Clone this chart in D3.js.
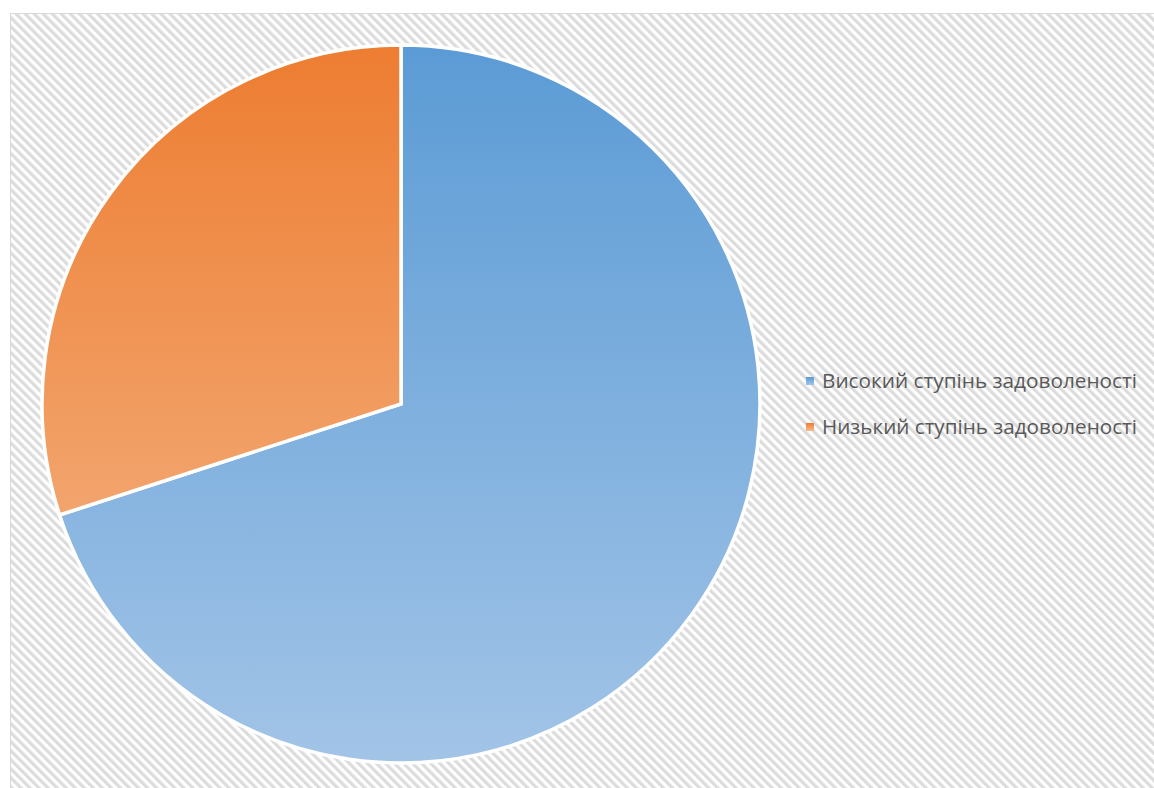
<!DOCTYPE html>
<html><head><meta charset="utf-8">
<script src="https://cdn.jsdelivr.net/npm/d3@7"></script>
<style>body{margin:0;background:#fff}svg{display:block}</style>
</head><body>
<script>
const categories = ["Високий ступінь задоволеності", "Низький ступінь задоволеності"];
const values = [70, 30];
const colorsTop = ["#5b9bd5", "#ed7d31"];
const colorsBottom = ["#a2c4e7", "#f5b98d"];

const W = 1154, H = 788;
const svg = d3.select("body").append("svg").attr("width", W).attr("height", H);
const defs = svg.append("defs");

const pat = defs.append("pattern").attr("id", "stripes")
  .attr("patternUnits", "userSpaceOnUse").attr("width", 6.4).attr("height", 6.4)
  .attr("patternTransform", "rotate(-45)");
pat.append("rect").attr("width", 6.4).attr("height", 6.4).attr("fill", "#ffffff");
pat.append("rect").attr("width", 3.2).attr("height", 6.4).attr("fill", "#dcdcdc");

svg.append("rect").attr("x", 10.5).attr("y", 13.5).attr("width", W).attr("height", H)
  .attr("fill", "url(#stripes)").attr("stroke", "#d9d9d9").attr("stroke-width", 1);

const cx = 401, cy = 404, r = 359;
categories.forEach((c, i) => {
  const g = defs.append("linearGradient").attr("id", "grad" + i)
    .attr("gradientUnits", "userSpaceOnUse")
    .attr("x1", 0).attr("y1", -r).attr("x2", 0).attr("y2", r);
  g.append("stop").attr("offset", "0%").attr("stop-color", colorsTop[i]);
  g.append("stop").attr("offset", "100%").attr("stop-color", colorsBottom[i]);
});

const pie = d3.pie().sort(null).value(d => d)(values);
const arc = d3.arc().innerRadius(0).outerRadius(r);
svg.append("g").attr("transform", `translate(${cx},${cy})`)
  .selectAll("path").data(pie).join("path")
  .attr("d", arc)
  .attr("fill", (d, i) => `url(#grad${i})`)
  .attr("stroke", "#ffffff").attr("stroke-width", 3.5).attr("stroke-linejoin", "miter");

const lg = svg.append("g").attr("transform", "translate(806,381)");
categories.forEach((c, i) => {
  const lgd = defs.append("linearGradient").attr("id", "lgrad" + i)
    .attr("x1", 0).attr("y1", 0).attr("x2", 0).attr("y2", 1);
  lgd.append("stop").attr("offset", "0%").attr("stop-color", colorsTop[i]);
  lgd.append("stop").attr("offset", "100%").attr("stop-color", colorsBottom[i]);
  const row = lg.append("g").attr("transform", `translate(0,${i * 46})`);
  row.append("rect").attr("x", 0).attr("y", -4).attr("width", 8).attr("height", 8)
    .attr("fill", `url(#lgrad${i})`);
  row.append("text").attr("x", 16).attr("y", 0).attr("dy", "0.35em")
    .attr("font-family", "'Open Sans', sans-serif").attr("font-size", 19.5)
    .attr("fill", "#595959").attr("textLength", 315).attr("lengthAdjust", "spacingAndGlyphs")
    .text(c);
});
</script>
</body></html>
